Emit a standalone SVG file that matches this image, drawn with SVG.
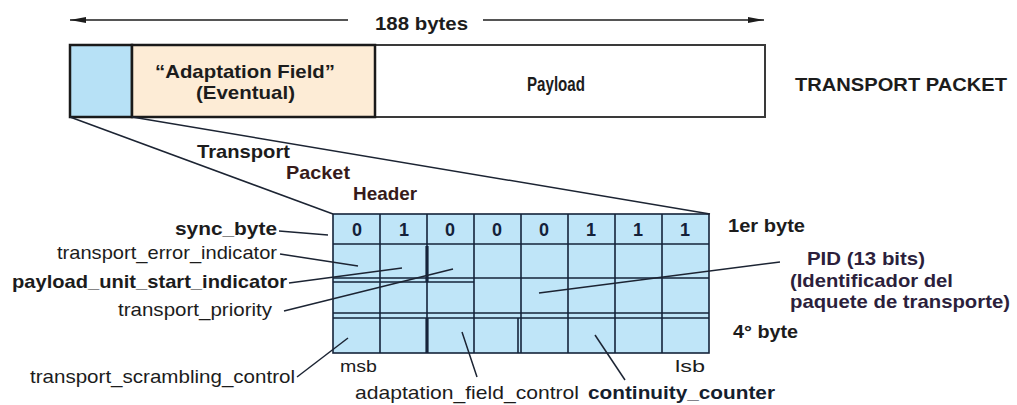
<svg xmlns="http://www.w3.org/2000/svg" width="1017" height="405" viewBox="0 0 1017 405">
<style>
text{font-family:"Liberation Sans",Arial,sans-serif;fill:#1c1c1c;font-size:19px}
.b{font-weight:bold}
.d{font-weight:bold;font-size:18px;fill:#14213a;text-anchor:middle}
.g{stroke:#15233a;stroke-width:1.6;fill:none}
.ld{stroke:#1c2433;stroke-width:1.5;fill:none}
</style>
<defs>
<marker id="ah" viewBox="0 0 16 6" refX="16" refY="3" markerWidth="16" markerHeight="6" markerUnits="userSpaceOnUse" orient="auto-start-reverse">
<path d="M0,0 L16,3 L0,6 Z" fill="#1c1c1c"/>
</marker>
</defs>
<rect width="1017" height="405" fill="#fff"/>
<g id="packet">
<rect x="375" y="45" width="390" height="72" fill="#fff" stroke="#3a3a3a" stroke-width="2"/>
<rect x="70" y="45" width="62" height="72" fill="#b7e1f6" stroke="#1a1a1a" stroke-width="2.5"/>
<rect x="132" y="45" width="243" height="72" fill="#fdecd6" stroke="#1a1a1a" stroke-width="2.5"/>
<text class="b" x="155" y="78" textLength="180" lengthAdjust="spacingAndGlyphs">“Adaptation Field”</text>
<text class="b" x="196" y="99" textLength="99" lengthAdjust="spacingAndGlyphs">(Eventual)</text>
<text class="b" x="527" y="91" textLength="58" lengthAdjust="spacingAndGlyphs" style="font-size:20px">Payload</text>
</g>
<g id="labels-top">
<text class="b" x="375" y="30" textLength="93" lengthAdjust="spacingAndGlyphs">188 bytes</text>
<text class="b" x="795" y="91" textLength="212" lengthAdjust="spacingAndGlyphs">TRANSPORT PACKET</text>
<text class="b" x="197" y="158" textLength="93" lengthAdjust="spacingAndGlyphs">Transport</text>
<text class="b" x="286" y="179" textLength="64" lengthAdjust="spacingAndGlyphs" style="fill:#361a1a">Packet</text>
<text class="b" x="353" y="200" textLength="64" lengthAdjust="spacingAndGlyphs" style="fill:#361a1a">Header</text>
</g>
<g id="header-grid">
<rect x="333" y="214" width="376" height="139" fill="#bfe5f8"/>
<g class="g">
<rect x="333" y="214" width="376" height="139"/>
<line x1="333" y1="244" x2="709" y2="244"/>
<line x1="333" y1="278" x2="709" y2="278"/>
<line x1="333" y1="282" x2="474" y2="282"/>
<line x1="333" y1="313" x2="709" y2="313"/>
<line x1="333" y1="318" x2="709" y2="318"/>
<line x1="380" y1="214" x2="380" y2="353"/>
<line x1="427" y1="214" x2="427" y2="353"/>
<line x1="474" y1="214" x2="474" y2="353"/>
<line x1="521" y1="214" x2="521" y2="353"/>
<line x1="568" y1="214" x2="568" y2="353"/>
<line x1="615" y1="214" x2="615" y2="353"/>
<line x1="662" y1="214" x2="662" y2="353"/>
<line x1="518" y1="318" x2="518" y2="353"/>
<line x1="427" y1="246" x2="427" y2="282" stroke-width="3.2"/>
<line x1="427" y1="318" x2="427" y2="353" stroke-width="3.2"/>
</g>
<text class="d" x="357" y="236">0</text>
<text class="d" x="404" y="236">1</text>
<text class="d" x="450" y="236">0</text>
<text class="d" x="497" y="236">0</text>
<text class="d" x="544" y="236">0</text>
<text class="d" x="591" y="236">1</text>
<text class="d" x="638" y="236">1</text>
<text class="d" x="685" y="236">1</text>
</g>
<g id="labels-fields">
<text class="b" x="175" y="235" textLength="102" lengthAdjust="spacingAndGlyphs">sync_byte</text>
<text x="57" y="259" textLength="220" lengthAdjust="spacingAndGlyphs">transport_error_indicator</text>
<text class="b" x="12" y="288" textLength="275" lengthAdjust="spacingAndGlyphs">payload_unit_start_indicator</text>
<text x="118" y="316" textLength="154" lengthAdjust="spacingAndGlyphs">transport_priority</text>
<text x="30" y="383" textLength="265" lengthAdjust="spacingAndGlyphs">transport_scrambling_control</text>
<text x="340" y="372" textLength="37" lengthAdjust="spacingAndGlyphs" style="font-size:17px">msb</text>
<text x="675" y="372" textLength="30" lengthAdjust="spacingAndGlyphs" style="font-size:17px">lsb</text>
<text x="355" y="399" textLength="224" lengthAdjust="spacingAndGlyphs">adaptation_field_control</text>
<text class="b" x="588" y="399" textLength="187" lengthAdjust="spacingAndGlyphs" style="fill:#14202e">continuity_counter</text>
<text class="b" x="728" y="232" textLength="77" lengthAdjust="spacingAndGlyphs">1er byte</text>
<text class="b" x="733" y="338" textLength="65" lengthAdjust="spacingAndGlyphs">4° byte</text>
<text class="b" x="807" y="265" textLength="118" lengthAdjust="spacingAndGlyphs" style="fill:#2c1f3c">PID (13 bits)</text>
<text class="b" x="790" y="287" textLength="163" lengthAdjust="spacingAndGlyphs" style="fill:#2c1f3c">(Identificador del</text>
<text class="b" x="790" y="308" textLength="220" lengthAdjust="spacingAndGlyphs" style="fill:#2c1f3c">paquete de transporte)</text>
</g>
<g id="connectors">
<line x1="348" y1="20" x2="70" y2="20" stroke="#1c1c1c" stroke-width="1.5" marker-end="url(#ah)"/>
<line x1="483" y1="20" x2="764" y2="20" stroke="#1c1c1c" stroke-width="1.5" marker-end="url(#ah)"/>
<line class="ld" x1="70" y1="117" x2="333" y2="214"/>
<line class="ld" x1="132" y1="117" x2="710" y2="214"/>
<line class="ld" x1="279" y1="231" x2="328" y2="235"/>
<line class="ld" x1="280" y1="254" x2="358" y2="266"/>
<line class="ld" x1="289" y1="283" x2="402" y2="268"/>
<line class="ld" x1="284" y1="311" x2="453" y2="269"/>
<line class="ld" x1="297" y1="377" x2="348" y2="338"/>
<line class="ld" x1="462" y1="332" x2="477" y2="377"/>
<line class="ld" x1="595" y1="335" x2="625" y2="380"/>
<line class="ld" x1="539" y1="293" x2="780" y2="262"/>
</g>
</svg>
